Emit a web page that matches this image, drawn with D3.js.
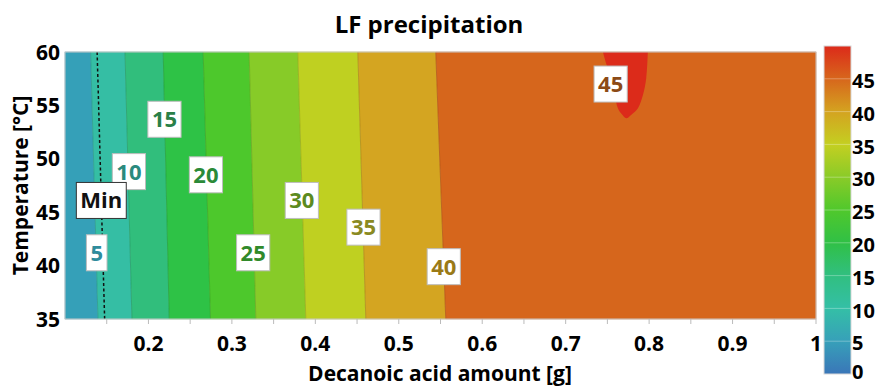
<!DOCTYPE html>
<html>
<head>
<meta charset="utf-8">
<script src="https://cdn.jsdelivr.net/npm/d3@7"></script>
<style>
  body { margin: 0; background: #fff; }
  svg { display: block; font-family: "Open Sans", "Noto Sans", sans-serif; font-weight: 700; }
</style>
</head>
<body>
<svg id="chart" width="882" height="387"></svg>
<script>
// contour levels and where each level line crosses the top (60 °C) and bottom (35 °C) edge
const levels = [5, 10, 15, 20, 25, 30, 35, 40];
const xAtTop = [0.1307, 0.1719, 0.2177, 0.2656, 0.3207, 0.3790, 0.4509, 0.5443];
const xAtBottom = [0.1395, 0.1802, 0.2249, 0.2744, 0.3287, 0.3886, 0.4605, 0.5563];
const bandColors = ["#35a0b8", "#35bea4", "#31be7c", "#2ec246", "#4dc82c",
                    "#87cb28", "#bfd021", "#d4a521", "#d6661c", "#dc2b1a"];

// the small >45 region near the top
const peakX = [0.7447, 0.7491, 0.7547, 0.7587, 0.7626, 0.7671, 0.7727,
               0.7784, 0.7866, 0.7926, 0.7966, 0.7985];
const peakT = [60, 58.78, 57.56, 55.97, 54.73, 54.19, 53.79,
               54.10, 54.73, 55.97, 57.56, 60];

// dashed "Min" line
const minX = [0.1385, 0.1475];
const minT = [60, 35];

// contour labels
const labelText = ["5", "10", "15", "20", "Min", "25", "30", "35", "40", "45"];
const labelX = [0.1380, 0.1766, 0.2192, 0.2689, 0.1435, 0.3255, 0.3838, 0.4577, 0.5539, 0.7539];
const labelT = [41.2, 48.8, 53.7, 48.5, 46.1, 41.2, 46.1, 43.6, 39.9, 57.0];
const labelColor = ["#2f8c9c", "#2b8a7e", "#2a8048", "#2b8a38", "#111", "#318a2a",
                    "#5c8a20", "#8a8a22", "#9a7a18", "#8c4a16"];

const xTicks = [0.2, 0.3, 0.4, 0.5, 0.6, 0.7, 0.8, 0.9, 1];
const xMinor = [0.15, 0.25, 0.35, 0.45, 0.55, 0.65, 0.75, 0.85, 0.95];
const yTicks = [35, 40, 45, 50, 55, 60];
const barTicks = [0, 5, 10, 15, 20, 25, 30, 35, 40, 45];
const barStops = [0, 5, 10, 15, 20, 25, 30, 35, 40, 45, 50];
const barColors = ["#3a76b8", "#37a0b9", "#34bfa6", "#31bf80", "#30c046", "#50c82c",
                   "#8acb28", "#c4cf21", "#d4a320", "#d7661c", "#dc2a1a"];

const svg = d3.select("#chart");
const x = d3.scaleLinear().domain([0.1, 1]).range([65, 816]);
const y = d3.scaleLinear().domain([35, 60]).range([319, 52]);
const cb = d3.scaleLinear().domain([0, 50]).range([374, 46]);

// bands: each one sits between two level lines
const edgesTop = [0.1, ...xAtTop, 1];
const edgesBot = [0.1, ...xAtBottom, 1];
const bands = d3.range(edgesTop.length - 1).map(i => [
  [edgesTop[i], 60], [edgesTop[i + 1], 60], [edgesBot[i + 1], 35], [edgesBot[i], 35]
]);

const plot = svg.append("g");
plot.selectAll(".band")
  .data(bands)
  .enter()
  .append("polygon")
  .attr("class", "band")
  .attr("points", d => d.map(p => [x(p[0]), y(p[1])].join(",")).join(" "))
  .attr("fill", (d, i) => bandColors[i])
  .attr("stroke", (d, i) => bandColors[i])
  .attr("stroke-width", 0.6);

plot.selectAll(".level")
  .data(levels)
  .enter()
  .append("line")
  .attr("class", "level")
  .attr("x1", (d, i) => x(xAtTop[i]))
  .attr("y1", y(60))
  .attr("x2", (d, i) => x(xAtBottom[i]))
  .attr("y2", y(35))
  .attr("stroke", "rgba(0,0,0,0.13)")
  .attr("stroke-width", 1);

const peakLine = d3.line()
  .x(d => x(d[0]))
  .y(d => y(d[1]))
  .curve(d3.curveCatmullRom);
plot.append("path")
  .datum(peakX.map((v, i) => [v, peakT[i]]))
  .attr("d", peakLine)
  .attr("fill", bandColors[9]);

plot.append("line")
  .attr("x1", x(minX[0])).attr("y1", y(minT[0]))
  .attr("x2", x(minX[1])).attr("y2", y(minT[1]))
  .attr("stroke", "#111")
  .attr("stroke-width", 1.5)
  .attr("stroke-dasharray", "3,2.5");

// frame
svg.append("rect")
  .attr("x", x(0.1)).attr("y", y(60))
  .attr("width", x(1) - x(0.1)).attr("height", y(35) - y(60))
  .attr("fill", "none")
  .attr("stroke", "#c9c9c9")
  .attr("stroke-width", 1);

// contour labels
const lab = svg.selectAll(".clabel")
  .data(labelText)
  .enter()
  .append("g")
  .attr("class", "clabel")
  .attr("transform", (d, i) => `translate(${x(labelX[i])},${y(labelT[i])})`);
lab.append("text")
  .attr("text-anchor", "middle")
  .attr("dy", "0.36em")
  .style("font-size", "22px")
  .attr("fill", (d, i) => labelColor[i])
  .text(d => d)
  .each(function(d, i) {
    const w = this.getComputedTextLength();
    d3.select(this.parentNode).insert("rect", "text")
      .attr("x", -w / 2 - 4)
      .attr("y", -18)
      .attr("width", w + 8)
      .attr("height", 36)
      .attr("fill", "#fff")
      .attr("stroke", d === "Min" ? "#333" : "#bdbdbd")
      .attr("stroke-width", 1);
  });

// x axis
svg.selectAll(".xtick")
  .data(xTicks.concat(xMinor))
  .enter()
  .append("line")
  .attr("class", "xtick")
  .attr("x1", d => x(d)).attr("x2", d => x(d))
  .attr("y1", y(35)).attr("y2", y(35) + 5)
  .attr("stroke", "#bbb");
svg.selectAll(".xlabel")
  .data(xTicks)
  .enter()
  .append("text")
  .attr("class", "xlabel")
  .attr("x", d => x(d))
  .attr("y", 351)
  .attr("text-anchor", "middle")
  .style("font-size", "21px")
  .text(d => d === 1 ? "1" : d3.format(".1f")(d));

// y axis
svg.selectAll(".ylabel")
  .data(yTicks)
  .enter()
  .append("text")
  .attr("class", "ylabel")
  .attr("x", 60)
  .attr("y", d => y(d))
  .attr("dy", "0.36em")
  .attr("text-anchor", "end")
  .style("font-size", "21px")
  .text(d => d);

// titles
svg.append("text")
  .attr("x", 429).attr("y", 33)
  .attr("text-anchor", "middle")
  .style("font-size", "24px")
  .text("LF precipitation");
svg.append("text")
  .attr("x", 440).attr("y", 381)
  .attr("text-anchor", "middle")
  .style("font-size", "21px")
  .text("Decanoic acid amount [g]");
svg.append("text")
  .attr("transform", `translate(28,${(y(35) + y(60)) / 2}) rotate(-90)`)
  .attr("text-anchor", "middle")
  .style("font-size", "21px")
  .text("Temperature [°C]");

// colour bar
const grad = svg.append("defs").append("linearGradient")
  .attr("id", "cbar")
  .attr("x1", 0).attr("y1", 1).attr("x2", 0).attr("y2", 0);
grad.selectAll("stop")
  .data(barStops)
  .enter()
  .append("stop")
  .attr("offset", d => d / 50)
  .attr("stop-color", (d, i) => barColors[i]);
svg.append("rect")
  .attr("x", 824).attr("y", cb(50))
  .attr("width", 27).attr("height", cb(0) - cb(50))
  .attr("fill", "url(#cbar)")
  .attr("stroke", "#d8d8d8");
svg.selectAll(".cbline")
  .data(barTicks.slice(1))
  .enter()
  .append("line")
  .attr("class", "cbline")
  .attr("x1", 824.5).attr("x2", 850.5)
  .attr("y1", d => cb(d)).attr("y2", d => cb(d))
  .attr("stroke", "rgba(255,255,255,0.3)");
svg.selectAll(".cblabel")
  .data(barTicks)
  .enter()
  .append("text")
  .attr("class", "cblabel")
  .attr("x", 852)
  .attr("y", d => cb(d) + (d === 0 ? -2 : 2))
  .attr("dy", "0.36em")
  .style("font-size", "20px")
  .text(d => d);
</script>
</body>
</html>
